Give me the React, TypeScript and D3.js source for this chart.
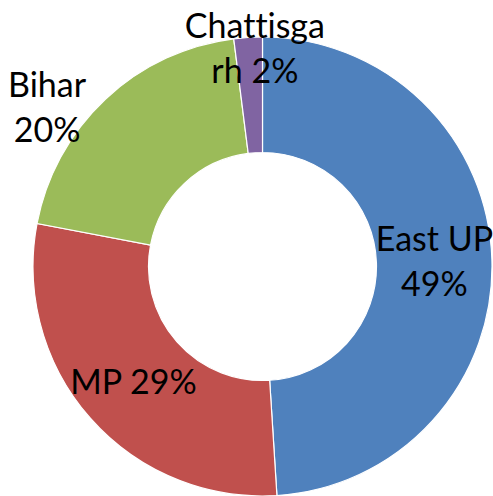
import { useEffect, useRef } from 'react';
import * as d3 from 'd3';

// Regiones y su porcentaje
const regiones = ['East UP', 'MP', 'Bihar', 'Chattisgarh'];
const valores = [49, 29, 20, 2];
// Texto de etiqueta, en líneas (como lo corta Excel)
const etiquetas = [['East UP', '49%'], ['MP 29%'], ['Bihar', '20%'], ['Chattisga', 'rh 2%']];
const colores = ['#4F81BD', '#C0504D', '#9BBB59', '#8064A2'];

const width = 493;
const height = 496;

export default function App() {
  const ref = useRef<SVGSVGElement>(null);

  useEffect(() => {
    const svg = d3.select(ref.current);
    svg.selectAll('*').remove();

    const cx = 262.5;
    const cy = 266.5;
    const outer = 229.5;
    const inner = 114;

    const datos = regiones.map((r, i) => ({ region: r, valor: valores[i], lineas: etiquetas[i], color: colores[i] }));
    const pie = d3.pie<any>().value(d => d.valor).sort(null);
    const arcos = pie(datos);
    const arc = d3.arc<any>().innerRadius(inner).outerRadius(outer);

    const g = svg.append('g').attr('transform', `translate(${cx},${cy})`);

    g.selectAll('path')
      .data(arcos)
      .enter()
      .append('path')
      .attr('d', arc)
      .attr('fill', d => d.data.color)
      .attr('stroke', '#fff')
      .attr('stroke-width', 1.2);

    // Etiquetas: dentro en el centroide, fuera las que no caben
    const radioEtiqueta: Record<string, number> = { 'East UP': 172, 'MP': 172, 'Bihar': 268, 'Chattisgarh': 217 };
    const ajuste: Record<string, [number, number]> = { 'East UP': [0, 0], 'MP': [0, 2], 'Bihar': [-32, 36], 'Chattisgarh': [6, -1] };
    const lineH = 45;

    arcos.forEach(a => {
      const r = radioEtiqueta[a.data.region];
      const [px, py] = d3.arc<any>().innerRadius(r).outerRadius(r).centroid(a);
      const [dx, dy] = ajuste[a.data.region];
      const x = px + dx;
      const y = py + dy;
      const n = a.data.lineas.length;
      const primera = y + 12 - ((n - 1) * lineH) / 2;
      const t = g.append('text')
        .attr('text-anchor', 'middle')
        .attr('font-family', 'Lato, "Noto Sans", sans-serif')
        .attr('font-size', 34)
        .style('font-variant-ligatures', 'none')
        .attr('fill', '#000');
      a.data.lineas.forEach((l: string, i: number) => {
        t.append('tspan').attr('x', x).attr('y', primera + i * lineH).text(l);
      });
    });
  }, []);

  return (
    <svg
      ref={ref}
      width={width}
      height={height}
      style={{ position: 'absolute', left: 0, top: 0, background: '#fff' }}
    />
  );
}
